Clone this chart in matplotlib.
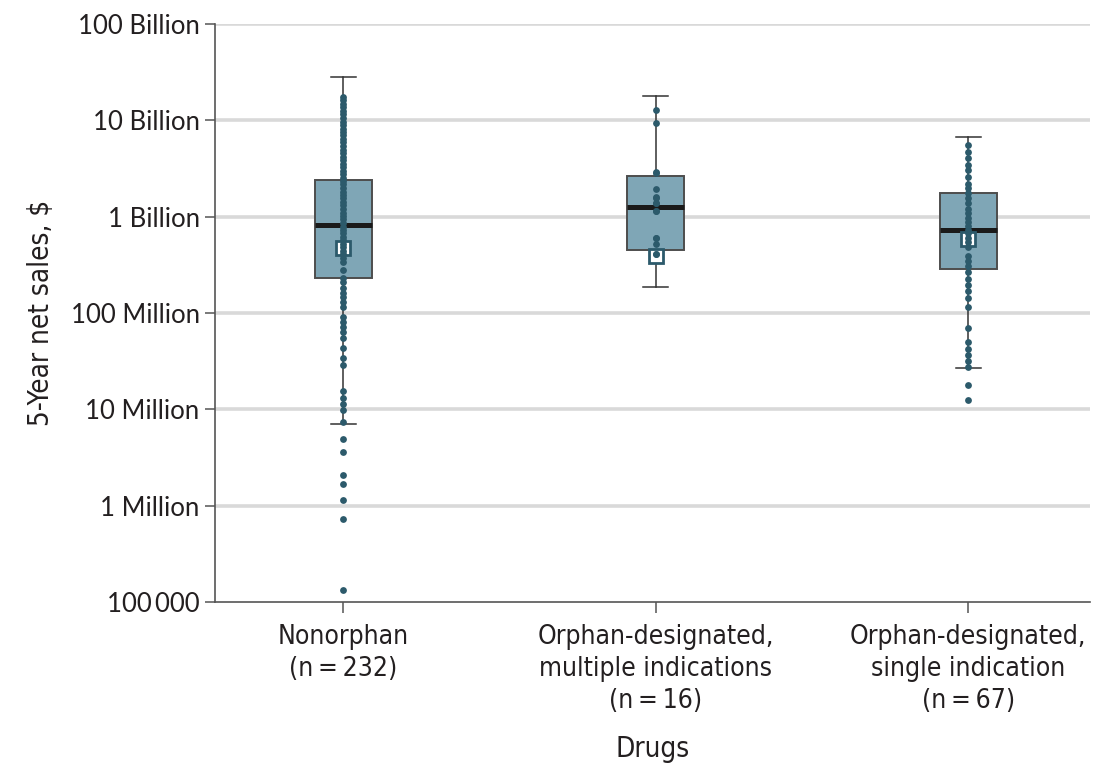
import matplotlib
matplotlib.use("Agg")
import matplotlib.pyplot as plt
from matplotlib import font_manager as fm

# ---------------- data ----------------
categories = ["Nonorphan\n(n\u2009=\u2009232)",
              "Orphan-designated,\nmultiple indications\n(n\u2009=\u200916)",
              "Orphan-designated,\nsingle indication\n(n\u2009=\u200967)"]

q1 = [2.31e8, 4.5e8, 2.88e8]
median = [8.2e8, 1.26e9, 7.26e8]
q3 = [2.4e9, 2.64e9, 1.75e9]
whisker_low = [7.0e6, 1.86e8, 2.69e7]
whisker_high = [2.8e10, 1.79e10, 6.76e9]
mean = [4.73e8, 3.91e8, 5.82e8]

nonorphan_values = [
    1.75e10, 1.61e10, 1.48e10, 1.36e10, 1.25e10, 1.15e10, 1.06e10, 9.7e9, 8.95e9, 8.2e9,
    7.6e9, 6.97e9, 6.4e9, 5.9e9, 5.4e9, 4.98e9, 4.6e9, 4.2e9, 3.9e9, 3.56e9,
    3.28e9, 3.0e9, 2.77e9, 2.55e9, 2.35e9, 2.16e9, 1.99e9, 1.82e9, 1.68e9, 1.55e9,
    1.42e9, 1.31e9, 1.2e9, 1.1e9, 1.02e9, 9.35e8, 8.6e8, 7.9e8, 7.3e8, 6.7e8,
    6.15e8, 5.66e8, 5.2e8, 4.79e8, 4.4e8, 4.05e8, 3.72e8, 3.38e8, 2.79e8, 2.31e8,
    2.1e8, 1.82e8, 1.61e8, 1.47e8, 1.3e8, 1.15e8, 9.1e7, 8.07e7, 7.16e7, 6.35e7,
    5.5e7, 4.33e7, 3.41e7, 2.88e7, 1.55e7, 1.31e7, 1.135e7, 9.84e6, 7.39e6, 4.92e6,
    3.6e6, 2.08e6, 1.68e6, 1.15e6, 7.27e5, 1.33e5]

orphan_multi_values = [
    1.27e10, 9.45e9, 2.89e9, 2.85e9, 1.94e9, 1.61e9, 1.58e9, 1.38e9, 1.4e9, 1.145e9,
    1.15e9, 6.05e8, 6.0e8, 5.2e8, 4.1e8, 4.05e8]

orphan_single_values = [
    5.55e9, 4.72e9, 4.03e9, 3.44e9, 3.05e9, 2.56e9, 2.17e9, 1.97e9, 1.75e9, 1.55e9,
    1.38e9, 1.19e9, 1.08e9, 9.6e8, 8.8e8, 8.0e8, 7.3e8, 6.72e8, 5.96e8, 5.4e8,
    4.88e8, 3.9e8, 3.5e8, 3.1e8, 2.68e8, 2.25e8, 1.95e8, 1.69e8, 1.44e8, 1.15e8,
    7.04e7, 4.96e7, 4.26e7, 3.69e7, 3.2e7, 2.75e7, 1.78e7, 1.25e7]

ytick_values = [1e5, 1e6, 1e7, 1e8, 1e9, 1e10, 1e11]
ytick_labels = ["100\u2009000", "1 Million", "10 Million", "100 Million",
                "1 Billion", "10 Billion", "100 Billion"]

# ---------------- style ----------------
installed = {f.name for f in fm.fontManager.ttflist}
condensed_ok = any(f.name == "DejaVu Sans" and "ondensed" in f.fname for f in fm.fontManager.ttflist)
if "Liberation Sans Narrow" in installed:
    narrow = dict(family="Liberation Sans Narrow")
elif condensed_ok:
    narrow = dict(family="DejaVu Sans", fontstretch="condensed")
else:
    narrow = dict(family="DejaVu Sans")
tick_font = "Lato" if "Lato" in installed else "DejaVu Sans"

BOX_FILL = "#7FA6B6"
BOX_EDGE = "#4d4d4d"
DOT = "#2C5A6B"
GRID = "#d9d9d9"
TEXT = "#231f20"

fig = plt.figure(figsize=(11.04, 7.63), dpi=100)
ax = fig.add_axes([215/1104, 1 - 602/763, (1090-215)/1104, (602-24)/763])

positions = [0, 1, 2]
stats = []
for i in range(3):
    stats.append(dict(med=median[i], q1=q1[i], q3=q3[i],
                      whislo=whisker_low[i], whishi=whisker_high[i], fliers=[]))

ax.bxp(stats, positions=positions, widths=0.182, patch_artist=True,
       showfliers=False, manage_ticks=False,
       boxprops=dict(facecolor=BOX_FILL, edgecolor=BOX_EDGE, linewidth=1.4),
       medianprops=dict(color="#1a1a1a", linewidth=3.6, solid_capstyle="butt"),
       whiskerprops=dict(color="#333333", linewidth=1.1),
       capprops=dict(color="#333333", linewidth=1.1), capwidths=0.08,
       zorder=3)

# mean markers
ax.plot(positions, mean, linestyle="none", marker="s", markersize=10,
        markerfacecolor="white", markeredgecolor=DOT, markeredgewidth=2.0,
        zorder=4)

# dots
for pos, vals in zip(positions, [nonorphan_values, orphan_multi_values, orphan_single_values]):
    ax.scatter([pos] * len(vals), vals, s=24, color=DOT, linewidths=0, zorder=5)

ax.set_yscale("log")
ax.set_ylim(1e5, 1e11)
ax.set_xlim(-0.41, 2.39)
ax.yaxis.set_minor_locator(matplotlib.ticker.NullLocator())
ax.set_yticks(ytick_values)
ax.set_yticklabels(ytick_labels, fontsize=18.5, family=tick_font, color=TEXT)
ax.set_xticks(positions)
ax.set_xticklabels(categories, fontsize=19, color=TEXT, linespacing=1.3, **narrow)

for v in ytick_values[1:]:
    ax.axhline(v, color=GRID, linewidth=2.6, zorder=0)

for s in ["top", "right"]:
    ax.spines[s].set_visible(False)
for s in ["left", "bottom"]:
    ax.spines[s].set_color("#555555")
    ax.spines[s].set_linewidth(1.2)
ax.tick_params(axis="y", length=7, width=1.1, color="#555555", pad=4)
ax.tick_params(axis="x", length=8, width=1.1, color="#555555", pad=8)

ax.set_ylabel("5-Year net sales, $", fontsize=20, color=TEXT, labelpad=11, **narrow)
ax.set_xlabel("Drugs", fontsize=20, color=TEXT, labelpad=15, **narrow)

fig.savefig("out.png", dpi=100)
